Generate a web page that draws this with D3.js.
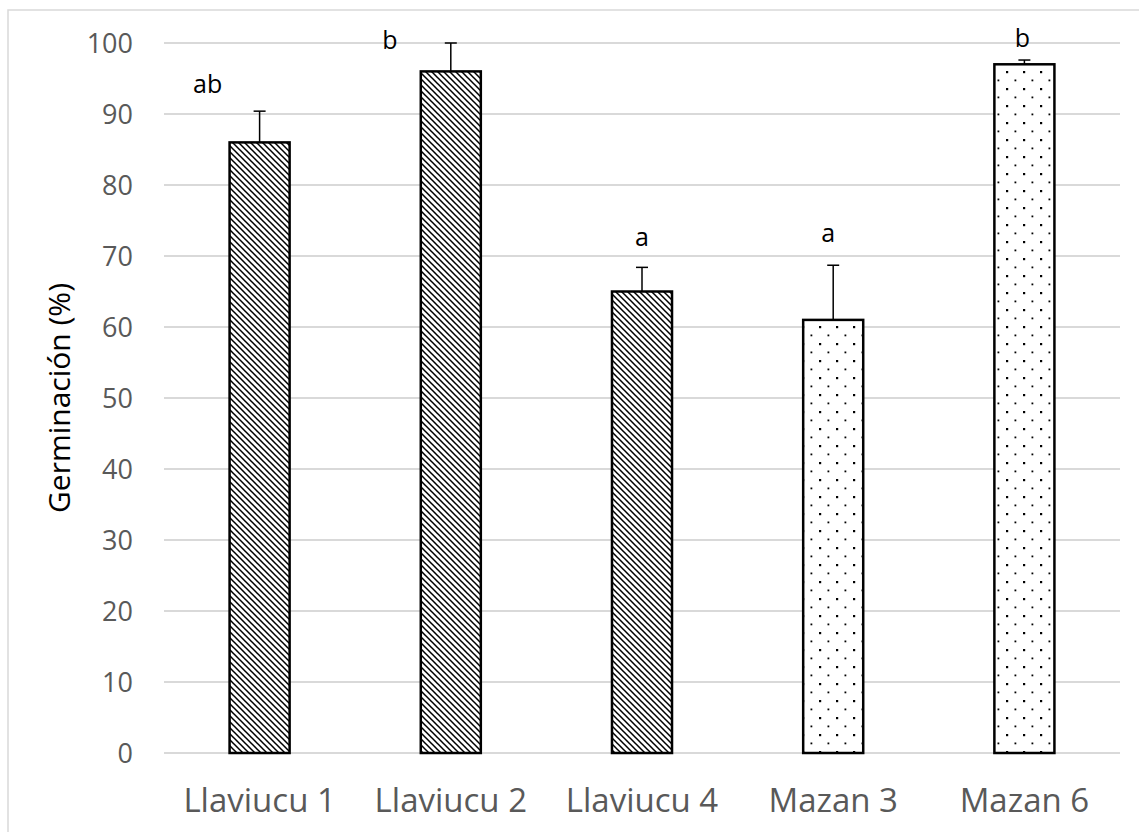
<!DOCTYPE html>
<html>
<head>
<meta charset="utf-8">
<script src="https://cdn.jsdelivr.net/npm/d3@7"></script>
<style>
  body { margin: 0; background: #fff; }
  text { font-family: "Open Sans", sans-serif; }
</style>
</head>
<body>
<script>
const categories = ['Llaviucu 1', 'Llaviucu 2', 'Llaviucu 4', 'Mazan 3', 'Mazan 6']
const germination = [86, 96, 65, 61, 97]
const errorUp = [4.4, 4, 3.4, 7.7, 0.6]
const letters = ['ab', 'b', 'a', 'a', 'b']
const patterns = ['hatch', 'hatch', 'hatch', 'dots', 'dots']
const yTicks = [0, 10, 20, 30, 40, 50, 60, 70, 80, 90, 100]

// where excel left the letter labels (px, from bar centre / error bar top)
const LABEL_DX = [-52, -61, 0, -5, -2]
const LABEL_DY = [-18, 6, -21, -23, -13]

const WIDTH = 1139
const HEIGHT = 832
const PLOT_LEFT = 164
const PLOT_RIGHT = 1120
const PLOT_TOP = 43
const PLOT_BOTTOM = 753

var svg = d3.select('body').append('svg')
  .attr('width', WIDTH)
  .attr('height', HEIGHT)

var defs = svg.append('defs')

var hatch = defs.append('pattern')
  .attr('id', 'hatch')
  .attr('patternUnits', 'userSpaceOnUse')
  .attr('width', 6)
  .attr('height', 6)
hatch.append('rect').attr('width', 6).attr('height', 6).attr('fill', '#fff')
hatch.append('path')
  .attr('d', 'M-1,-1L7,7M-1,5L1,7M5,-1L7,1')
  .attr('stroke', '#000')
  .attr('stroke-width', 1.5)

var dots = defs.append('pattern')
  .attr('id', 'dots')
  .attr('patternUnits', 'userSpaceOnUse')
  .attr('width', 17)
  .attr('height', 17)
dots.append('rect').attr('width', 17).attr('height', 17).attr('fill', '#fff')
dots.append('rect').attr('x', 3).attr('y', 3).attr('width', 2.2).attr('height', 2.2).attr('fill', '#000')
dots.append('rect').attr('x', 11.5).attr('y', 11.5).attr('width', 1.8).attr('height', 1.8).attr('fill', '#000')

// chart area border
svg.append('rect')
  .attr('x', 8)
  .attr('y', 10)
  .attr('width', WIDTH)
  .attr('height', HEIGHT)
  .attr('fill', 'none')
  .attr('stroke', '#d9d9d9')
  .attr('stroke-width', 1.5)

var x = d3.scaleBand()
  .domain(categories)
  .range([PLOT_LEFT, PLOT_RIGHT])
  .paddingInner(0.686)
  .paddingOuter(0.343)

var y = d3.scaleLinear()
  .domain([0, 100])
  .range([PLOT_BOTTOM, PLOT_TOP])

// gridlines
svg.append('g')
  .selectAll('line')
  .data(yTicks)
  .join('line')
  .attr('x1', PLOT_LEFT)
  .attr('x2', PLOT_RIGHT)
  .attr('y1', d => y(d))
  .attr('y2', d => y(d))
  .attr('stroke', '#d9d9d9')
  .attr('stroke-width', 2)

var yAxis = svg.append('g')
  .attr('transform', `translate(${PLOT_LEFT}, 0)`)
  .call(d3.axisLeft(y).tickValues(yTicks).tickSize(0).tickPadding(31))
yAxis.select('.domain').remove()
yAxis.selectAll('text')
  .attr('fill', '#595959')
  .style('font-size', '27px')
  .attr('dy', '0.36em')

var xAxis = svg.append('g')
  .attr('transform', `translate(0, ${PLOT_BOTTOM})`)
  .call(d3.axisBottom(x).tickSize(0).tickPadding(36))
xAxis.select('.domain').remove()
xAxis.selectAll('text')
  .attr('fill', '#595959')
  .style('font-size', '33px')

svg.append('text')
  .attr('transform', `translate(70, ${(PLOT_TOP + PLOT_BOTTOM) / 2}) rotate(-90)`)
  .attr('text-anchor', 'middle')
  .style('font-size', '30px')
  .attr('fill', '#000')
  .text('Germinación (%)')

var bars = categories.map((c, i) => ({
  name: c,
  value: germination[i],
  err: errorUp[i],
  letter: letters[i],
  fill: patterns[i],
  i: i
}))

// error bars (upper only)
var err = svg.append('g')
  .attr('stroke', '#000')
  .attr('stroke-width', 1.5)
err.selectAll('line.stem')
  .data(bars)
  .join('line')
  .attr('class', 'stem')
  .attr('x1', d => x(d.name) + x.bandwidth() / 2)
  .attr('x2', d => x(d.name) + x.bandwidth() / 2)
  .attr('y1', d => y(d.value))
  .attr('y2', d => y(d.value + d.err))
err.selectAll('line.cap')
  .data(bars)
  .join('line')
  .attr('class', 'cap')
  .attr('x1', d => x(d.name) + x.bandwidth() / 2 - 6)
  .attr('x2', d => x(d.name) + x.bandwidth() / 2 + 6)
  .attr('y1', d => y(d.value + d.err))
  .attr('y2', d => y(d.value + d.err))

svg.append('g')
  .selectAll('rect')
  .data(bars)
  .join('rect')
  .attr('x', d => x(d.name))
  .attr('y', d => y(d.value))
  .attr('width', x.bandwidth())
  .attr('height', d => y(0) - y(d.value))
  .attr('fill', d => `url(#${d.fill})`)
  .attr('stroke', '#000')
  .attr('stroke-width', 2.5)

svg.append('g')
  .selectAll('text')
  .data(bars)
  .join('text')
  .attr('x', d => x(d.name) + x.bandwidth() / 2 + LABEL_DX[d.i])
  .attr('y', d => y(d.value + d.err) + LABEL_DY[d.i])
  .attr('text-anchor', 'middle')
  .style('font-size', '25px')
  .attr('fill', '#000')
  .text(d => d.letter)
</script>
</body>
</html>
